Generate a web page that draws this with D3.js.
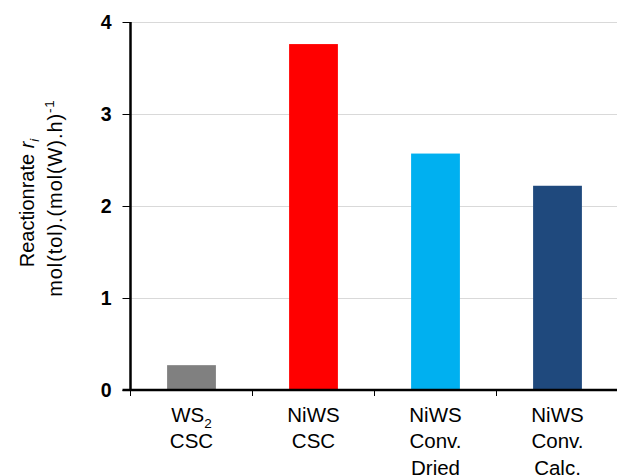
<!DOCTYPE html>
<html>
<head>
<meta charset="utf-8">
<script src="https://cdn.jsdelivr.net/npm/d3@7/dist/d3.min.js"></script>
<style>
  html, body { margin: 0; padding: 0; background: #fff; }
  svg { display: block; font-family: Arial, "Liberation Sans", sans-serif; }
</style>
</head>
<body>
<svg id="chart" width="617" height="476"></svg>
<script>
// Catalyst samples and their toluene hydrogenation rate
const categories = ["WS2 CSC", "NiWS CSC", "NiWS Conv. Dried", "NiWS Conv. Calc."];
// label lines per category; "_" marks a subscript part
const categoryLines = [["WS_2", "CSC"], ["NiWS", "CSC"], ["NiWS", "Conv.", "Dried"], ["NiWS", "Conv.", "Calc."]];
const rates = [0.27, 3.76, 2.57, 2.22];
const barColors = ["#808080", "#ff0000", "#00b0f0", "#1f497d"];
const yTicks = [0, 1, 2, 3, 4];

const svg = d3.select("#chart");
const margin = { left: 130.5, right: 618.5, top: 22, bottom: 390 };

const x = d3.scaleBand().domain(categories).range([margin.left, margin.right]).paddingInner(0).paddingOuter(0);
const y = d3.scaleLinear().domain([0, 4]).range([margin.bottom, margin.top]);

// horizontal gridlines
svg.append("g")
  .selectAll("line")
  .data(yTicks.filter(d => d > 0))
  .join("line")
  .attr("x1", margin.left).attr("x2", 617)
  .attr("y1", d => Math.round(y(d)) + 0.5).attr("y2", d => Math.round(y(d)) + 0.5)
  .attr("stroke", "#d9d9d9").attr("stroke-width", 1);

// bars
const barW = x.bandwidth() * 0.4;
svg.append("g")
  .selectAll("rect")
  .data(categories)
  .join("rect")
  .attr("x", d => x(d) + (x.bandwidth() - barW) / 2)
  .attr("width", barW)
  .attr("y", (d, i) => y(rates[i]))
  .attr("height", (d, i) => y(0) - y(rates[i]))
  .attr("fill", (d, i) => barColors[i]);

// y axis
const yAxis = d3.axisLeft(y).tickValues(yTicks).tickSize(8).tickPadding(11).tickFormat(d3.format("d"));
const gy = svg.append("g").attr("transform", `translate(${margin.left},0)`).call(yAxis);
gy.select(".domain").attr("stroke", "#000").attr("stroke-width", 2.5).attr("d", `M0,${margin.top}V${margin.bottom}`);
gy.selectAll(".tick line").attr("stroke", "#000").attr("stroke-width", 1);
gy.selectAll(".tick text")
  .attr("font-size", 19.5).attr("font-weight", "bold").attr("fill", "#000")
  .attr("font-family", "Arial, 'Liberation Sans', sans-serif");

// x axis: ticks at category boundaries
const gx = svg.append("g");
gx.selectAll("line.tk")
  .data(categories)
  .join("line")
  .attr("class", "tk")
  .attr("x1", d => x(d)).attr("x2", d => x(d))
  .attr("y1", y(0)).attr("y2", y(0) + 6)
  .attr("stroke", "#000").attr("stroke-width", 1);
gx.append("line")
  .attr("x1", margin.left - 8).attr("x2", margin.right - 1.5)
  .attr("y1", y(0)).attr("y2", y(0))
  .attr("stroke", "#000").attr("stroke-width", 2.5);

// category labels
const lineGap = 26.5;
const labels = svg.append("g")
  .attr("font-size", 20.5).attr("fill", "#000").attr("text-anchor", "middle");
categories.forEach((c, i) => {
  const cx = x(c) + x.bandwidth() / 2;
  categoryLines[i].forEach((ln, j) => {
    const t = labels.append("text").attr("x", cx).attr("y", 421.5 + j * lineGap);
    const parts = ln.split("_");
    t.append("tspan").text(parts[0]);
    if (parts.length > 1) {
      t.append("tspan").attr("font-size", 13.5).attr("dy", 6).text(parts[1]);
    }
  });
});

// y axis title
const title = svg.append("g").attr("fill", "#000").attr("font-size", 20).attr("text-anchor", "middle");
const t1 = title.append("text").attr("transform", "translate(34,203) rotate(-90)");
t1.append("tspan").text("Reactionrate ");
t1.append("tspan").attr("font-style", "italic").text("r");
t1.append("tspan").attr("font-style", "italic").attr("font-size", 13).attr("dy", 5).text("i");
const t2 = title.append("text").attr("transform", "translate(62,198) rotate(-90)").attr("letter-spacing", 0.9);
t2.append("tspan").text("mol(tol).(mol(W).h)");
t2.append("tspan").attr("font-size", 13.5).attr("dy", -8).text("-1");
</script>
</body>
</html>
